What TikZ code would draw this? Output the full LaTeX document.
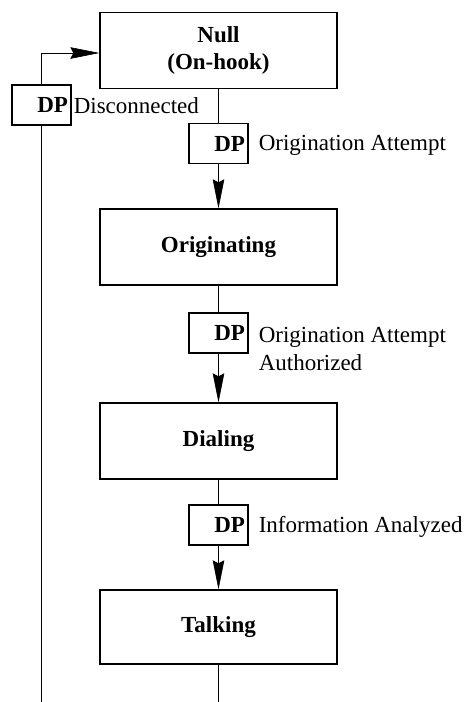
\documentclass[tikz,border=0pt]{standalone}
\usepackage{fontspec}
\setmainfont{Liberation Serif}
\usetikzlibrary{arrows.meta}
\begin{document}
\begin{tikzpicture}[x=1pt,y=-1pt,
  state/.style={draw, line width=1.3pt, minimum width=237pt, minimum height=76pt,
    inner sep=0pt, align=center, font=\fontsize{23}{27}\selectfont\bfseries},
  dpbox/.style={draw, line width=1.1pt, minimum width=59pt, minimum height=40pt,
    inner sep=0pt, text width=53pt, align=right, font=\fontsize{23}{27}\selectfont\bfseries},
  lbl/.style={inner sep=0pt, font=\fontsize{23}{28}\selectfont},
  conn/.style={line width=0.6pt},
  arr/.style={-{Stealth[length=29pt,width=11.5pt,inset=3pt]}}
]
\path[use as bounding box] (0,0) rectangle (467,702);

% call states
\node[state] (null) at (218.5,50.5) {Null\\(On-hook)};
\node[state] (orig) at (218.5,247) {Originating};
\node[state] (dial) at (218.5,441) {Dialing};
\node[state, minimum height=74pt] (talk) at (218.5,627) {Talking};

% detection points
\node[dpbox] (dp0) at (41.5,105) {DP};
\node[dpbox] (dp1) at (218.5,143.5) {DP};
\node[dpbox] (dp2) at (218.5,333) {DP};
\node[dpbox] (dp3) at (218.5,525) {DP};

% detection point names
\node[lbl, anchor=base west, xshift=2pt, yshift=-8pt] (l0) at (dp0.east) {Disconnected};
\node[lbl, anchor=base west, xshift=10pt, yshift=-7pt] (l1) at (dp1.east) {Origination Attempt};
\node[lbl, anchor=base west, xshift=10pt, yshift=-9pt] (l2) at (dp2.east) {Origination Attempt};
\node[lbl, anchor=base west] (l2b) at ([yshift=-28pt]l2.base west) {Authorized};
\node[lbl, anchor=base west, xshift=10pt, yshift=-7pt] (l3) at (dp3.east) {Information Analyzed};

% main flow
\draw[conn] (null.south) -- (dp1.north);
\draw[conn, arr] (dp1.south) -- (orig.north);
\draw[conn] (orig.south) -- (dp2.north);
\draw[conn, arr] (dp2.south) -- (dial.north);
\draw[conn] (dial.south) -- (dp3.north);
\draw[conn, arr] (dp3.south) -- (talk.north);
\coordinate (tend) at (218.5,702);
\draw[conn] (talk.south) -- (tend);

% return path to Null
\coordinate (lend) at (41.5,702);
\draw[conn] (lend) -- (dp0.south);
\draw[conn, arr] (dp0.north) |- ([yshift=-2.5pt]null.west);
\end{tikzpicture}
\end{document}
